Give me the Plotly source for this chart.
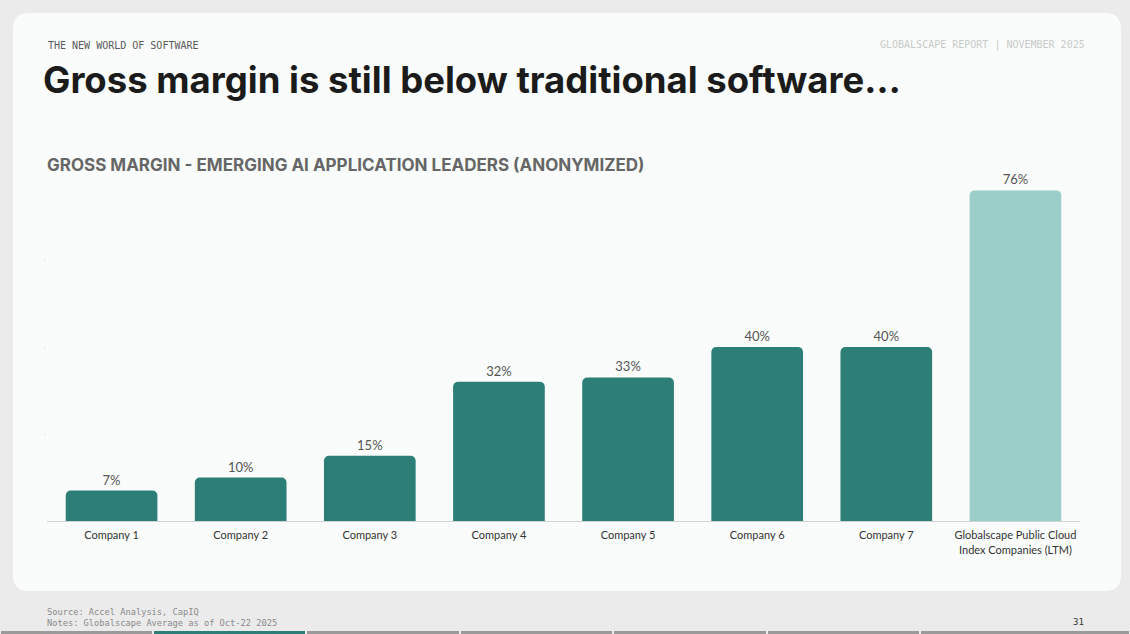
import plotly.graph_objects as go

# data
companies = ["Company 1", "Company 2", "Company 3", "Company 4", "Company 5",
             "Company 6", "Company 7", "Globalscape Public Cloud<br>Index Companies (LTM)"]
gross_margin = [7, 10, 15, 32, 33, 40, 40, 76]
bar_colors = ["#2c7e77"] * 7 + ["#9bcdc9"]

W, H = 1130, 634
L, R, T, B = 47, 50, 173, 113
PW, PH = W - L - R, H - T - B


def px(x):
    return (x - L) / PW


def py(y):
    return (H - B - y) / PH


fig = go.Figure()
fig.add_trace(go.Bar(
    x=companies, y=gross_margin,
    marker=dict(color=bar_colors, cornerradius=5, line=dict(width=0)),
    texttemplate="%{y}%", textposition="outside", cliponaxis=False,
    textfont=dict(family="Lato", size=13, color="#555555"),
    hoverinfo="skip",
))


def rounded(x0, y0, x1, y1, r):
    # rounded rectangle path in paper coords (pixel inputs)
    return (f"M {px(x0 + r)} {py(y0)} L {px(x1 - r)} {py(y0)} "
            f"Q {px(x1)} {py(y0)} {px(x1)} {py(y0 + r)} L {px(x1)} {py(y1 - r)} "
            f"Q {px(x1)} {py(y1)} {px(x1 - r)} {py(y1)} L {px(x0 + r)} {py(y1)} "
            f"Q {px(x0)} {py(y1)} {px(x0)} {py(y1 - r)} L {px(x0)} {py(y0 + r)} "
            f"Q {px(x0)} {py(y0)} {px(x0 + r)} {py(y0)} Z")


shapes = [dict(type="path", xref="paper", yref="paper", layer="below",
               path=rounded(13, 13, 1121, 591, 16),
               fillcolor="#f9fcfa", line=dict(width=0))]

# bottom progress strip
seg_edges = [0, 153, 306, 460, 613, 767, 920, 1130]
for i in range(len(seg_edges) - 1):
    shapes.append(dict(type="rect", xref="paper", yref="paper", layer="below",
                       x0=px(seg_edges[i] + 1), x1=px(seg_edges[i + 1] - 1),
                       y0=py(634), y1=py(631),
                       fillcolor="#2c7e77" if i == 1 else "#9a9a9a",
                       line=dict(width=0)))

mono = "DejaVu Sans Mono"
annotations = [
    dict(text="THE NEW WORLD OF SOFTWARE", x=px(46), y=py(45), xanchor="left",
         yanchor="middle", font=dict(family=mono, size=10, color="#5a5a5a")),
    dict(text="GLOBALSCAPE REPORT | NOVEMBER 2025", x=px(1087), y=py(45),
         xanchor="right", yanchor="middle",
         font=dict(family=mono, size=10, color="#c8cbc9")),
    dict(text="<b>Gross margin is still below traditional software…</b>",
         x=px(41), y=py(80), xanchor="left", yanchor="middle",
         font=dict(family="Inter", size=36.5, color="#1b1b1b")),
    dict(text="<b>GROSS MARGIN - EMERGING AI APPLICATION LEADERS (ANONYMIZED)</b>",
         x=px(45), y=py(165), xanchor="left", yanchor="middle",
         font=dict(family="Inter", size=17, color="#666666")),
    dict(text="Source: Accel Analysis, CapIQ<br>Notes: Globalscape Average as of Oct-22 2025",
         x=px(45), y=py(617), xanchor="left", yanchor="middle", align="left",
         font=dict(family=mono, size=8.7, color="#8a8a8a")),
    dict(text="31", x=px(1086), y=py(622), xanchor="right", yanchor="middle",
         font=dict(family=mono, size=9, color="#333333")),
]
for a in annotations:
    a.update(xref="paper", yref="paper", showarrow=False)

fig.update_layout(
    width=W, height=H,
    margin=dict(l=L, r=R, t=T, b=B),
    paper_bgcolor="#ebebeb", plot_bgcolor="rgba(0,0,0,0)",
    showlegend=False, bargap=0.29,
    shapes=shapes, annotations=annotations,
    xaxis=dict(showgrid=False, showline=True, linecolor="#cfd3d1", linewidth=1,
               ticks="", ticklabelstandoff=4,
               tickfont=dict(family="Lato", size=11, color="#333333")),
    yaxis=dict(range=[0, 80], showgrid=False, zeroline=False, showticklabels=False,
               tickvals=[20, 40, 60], ticks="outside", ticklen=2,
               tickcolor="#e2e5e3"),
)

# drop the default page margin so the figure fills the window
fig.write_html("out.html", config={"displayModeBar": False},
               post_script="document.body.style.margin='0';"
                           "document.body.style.overflow='hidden';"
                           "document.body.style.background='#ebebeb';")
